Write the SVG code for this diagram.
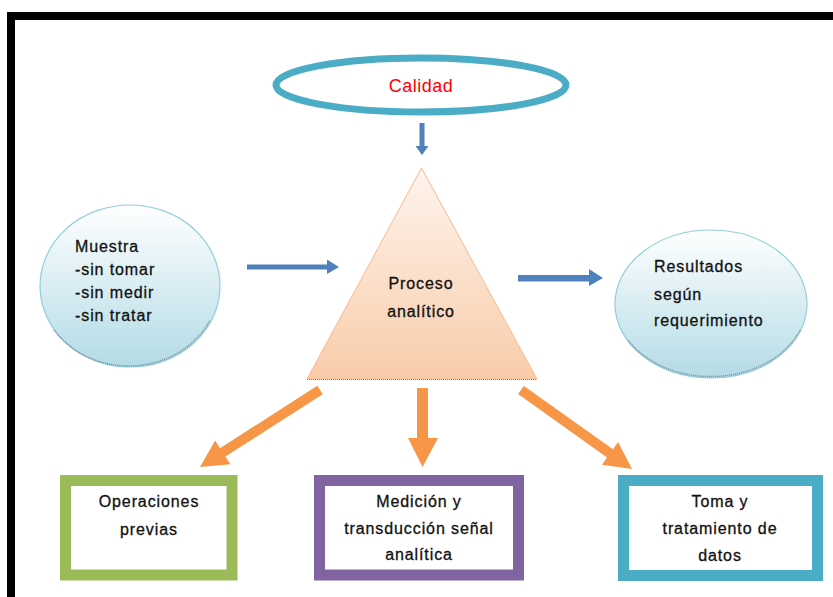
<svg xmlns="http://www.w3.org/2000/svg" width="833" height="597" viewBox="0 0 833 597">
<defs>
<linearGradient id="gTri" x1="0" y1="0" x2="0" y2="1">
<stop offset="0" stop-color="#fef4ee"/>
<stop offset="1" stop-color="#f9cca9"/>
</linearGradient>
<linearGradient id="gCirc" x1="0" y1="0" x2="0" y2="1">
<stop offset="0" stop-color="#ffffff"/>
<stop offset="1" stop-color="#b3dbe6"/>
</linearGradient>
<style>
.t{font-family:"Liberation Sans",Arial,sans-serif;font-size:16px;fill:#111;stroke:#111;stroke-width:0.3px;letter-spacing:0.9px}
.c{text-anchor:middle}
.blue{fill:#4f81bd}
.orange{fill:#f79646}
.box{fill:#fff;stroke-width:11}
.circ{fill:url(#gCirc);stroke:#93cddd;stroke-width:1.2}
.shadow{fill:none;stroke:#7a8e94;stroke-width:1.5;stroke-dasharray:1 1}
</style>
</defs>
<rect width="833" height="597" fill="#fff"/>
<rect x="7" y="12" width="826" height="8" fill="#000"/>
<rect x="7" y="12" width="8" height="585" fill="#000"/>

<g id="calidad">
<ellipse cx="421" cy="85" rx="145" ry="27" fill="#fff" stroke="#4bacc6" stroke-width="7"/>
<text x="421" y="92" class="c" style="font-family:'Liberation Sans',Arial,sans-serif;font-size:18px;fill:#ff0000;letter-spacing:0.5px">Calidad</text>
</g>

<g id="muestra">
<ellipse cx="130" cy="286" rx="90" ry="81" class="circ"/>
<path class="shadow" d="M54,330 A90,81 0 0 0 210,320"/>
<text class="t" x="75" y="252">Muestra</text>
<text class="t" x="75" y="275">-sin tomar</text>
<text class="t" x="75" y="298">-sin medir</text>
<text class="t" x="75" y="321">-sin tratar</text>
</g>

<g id="proceso">
<polygon points="421.5,168 307,379 537,379" fill="url(#gTri)" stroke="#f8b98c" stroke-width="1"/>
<line x1="307" y1="379.5" x2="537" y2="379.5" stroke="#8a7a6e" stroke-width="1" stroke-dasharray="1 1"/>
<text class="t c" x="421" y="289">Proceso</text>
<text class="t c" x="421" y="317">analítico</text>
</g>

<g id="resultados">
<ellipse cx="711" cy="304" rx="96" ry="74" class="circ"/>
<path class="shadow" d="M628,340 A96,74 0 0 0 800,330"/>
<text class="t" x="654" y="272">Resultados</text>
<text class="t" x="654" y="300">según</text>
<text class="t" x="654" y="326">requerimiento</text>
</g>

<g id="operaciones">
<rect x="65.5" y="480.5" width="166.5" height="94.5" class="box" stroke="#9bbb59"/>
<text class="t c" x="149" y="507">Operaciones</text>
<text class="t c" x="149" y="535">previas</text>
</g>

<g id="medicion">
<rect x="319.5" y="480.5" width="199" height="94.5" class="box" stroke="#8064a2"/>
<text class="t c" x="419" y="507">Medición y</text>
<text class="t c" x="419" y="534">transducción señal</text>
<text class="t c" x="419" y="560">analítica</text>
</g>

<g id="toma">
<rect x="623.5" y="480.5" width="194" height="95" class="box" stroke="#4bacc6"/>
<text class="t c" x="720" y="507">Toma y</text>
<text class="t c" x="720" y="534">tratamiento de</text>
<text class="t c" x="720" y="561">datos</text>
</g>

<g id="connectors">
<polygon class="blue" points="419.5,123 424.5,123 424.5,146 428.5,146 422,155 415.5,146 419.5,146"/>
<polygon class="blue" points="247,264.5 327,264.5 327,259.5 339,267 327,274 327,269.5 247,269.5"/>
<polygon class="blue" points="518,275 589,275 589,269 603,278 589,286 589,281.5 518,281.5"/>
<polygon class="orange" points="317.3,385.8 220.0,448.2 215.1,440.6 200,467 230.3,464.2 225.4,456.6 322.7,394.2"/>
<polygon class="orange" points="417,388 428,388 428,438 438,438 422.5,467 408,438 417,438"/>
<polygon class="orange" points="523.9,385.9 612.9,449.2 618.1,441.9 632,469 601.9,464.7 607.1,457.4 518.1,394.1"/>
</g>
</svg>
